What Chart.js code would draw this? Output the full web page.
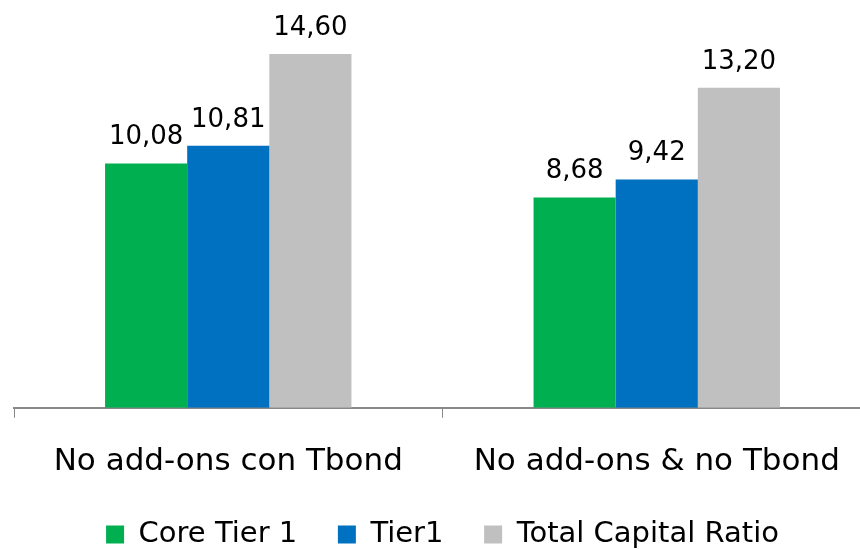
<!DOCTYPE html>
<html>
<head>
<meta charset="utf-8">
<script src="https://cdn.jsdelivr.net/npm/chart.js@4"></script>
<style>
  html, body { margin: 0; padding: 0; background: #fff; }
  #wrap { width: 860px; height: 550px; overflow: hidden; }
</style>
</head>
<body>
<div id="wrap"><canvas id="capChart" width="871" height="559"></canvas></div>
<script>
// ====================
// Dati
// ====================
const categories = ["No add-ons con Tbond", "No add-ons & no Tbond"];
const coreTier1 = [10.08, 8.68];
const tier1 = [10.81, 9.42];
const totalCapital = [14.60, 13.20];
const seriesNames = ["Core Tier 1", "Tier1", "Total Capital Ratio"];
const seriesColors = ["#00B050", "#0070C0", "#C0C0C0"];

const FONT = "'DejaVu Sans', sans-serif";

// ====================
// Etichette sopra le barre
// ====================
const valueLabels = {
    id: "valueLabels",
    afterDatasetsDraw(chart) {
        const ctx = chart.ctx;
        ctx.save();
        ctx.font = "26px " + FONT;
        ctx.fillStyle = "#000";
        ctx.textAlign = "center";
        ctx.textBaseline = "alphabetic";
        chart.data.datasets.forEach((ds, i) => {
            chart.getDatasetMeta(i).data.forEach((bar, j) => {
                const txt = ds.data[j].toFixed(2).replace(".", ",");
                ctx.fillText(txt, bar.x, bar.y - 19);
            });
        });
        ctx.restore();
    }
};

new Chart(document.getElementById("capChart"), {
    type: "bar",
    data: {
        labels: categories,
        datasets: [
            { label: seriesNames[0], data: coreTier1, backgroundColor: seriesColors[0] },
            { label: seriesNames[1], data: tier1, backgroundColor: seriesColors[1] },
            { label: seriesNames[2], data: totalCapital, backgroundColor: seriesColors[2] }
        ]
    },
    options: {
        responsive: false,
        animation: false,
        layout: { padding: { left: 14, right: 0, top: 20, bottom: 0 } },
        datasets: { bar: { categoryPercentage: 0.575, barPercentage: 1.0 } },
        plugins: {
            legend: {
                position: "bottom",
                labels: {
                    font: { family: FONT, size: 29 },
                    color: "#000",
                    boxWidth: 18,
                    boxHeight: 18,
                    padding: 13,
                    // un po' di spazio in più tra le voci
                    generateLabels(chart) {
                        const items = Chart.defaults.plugins.legend.labels.generateLabels(chart);
                        items.forEach((it, i) => {
                            if (i < items.length - 1) it.text = it.text + "   ";
                        });
                        return items;
                    }
                }
            },
            tooltip: { enabled: false }
        },
        scales: {
            x: {
                grid: { display: true, drawOnChartArea: false, tickLength: 10, color: "#888", offset: true },
                border: { color: "#888", width: 2 },
                ticks: { font: { family: FONT, size: 31 }, color: "#000", padding: 26 }
            },
            y: {
                display: false,
                min: 0,
                max: 16
            }
        }
    },
    plugins: [valueLabels]
});
</script>
</body>
</html>
